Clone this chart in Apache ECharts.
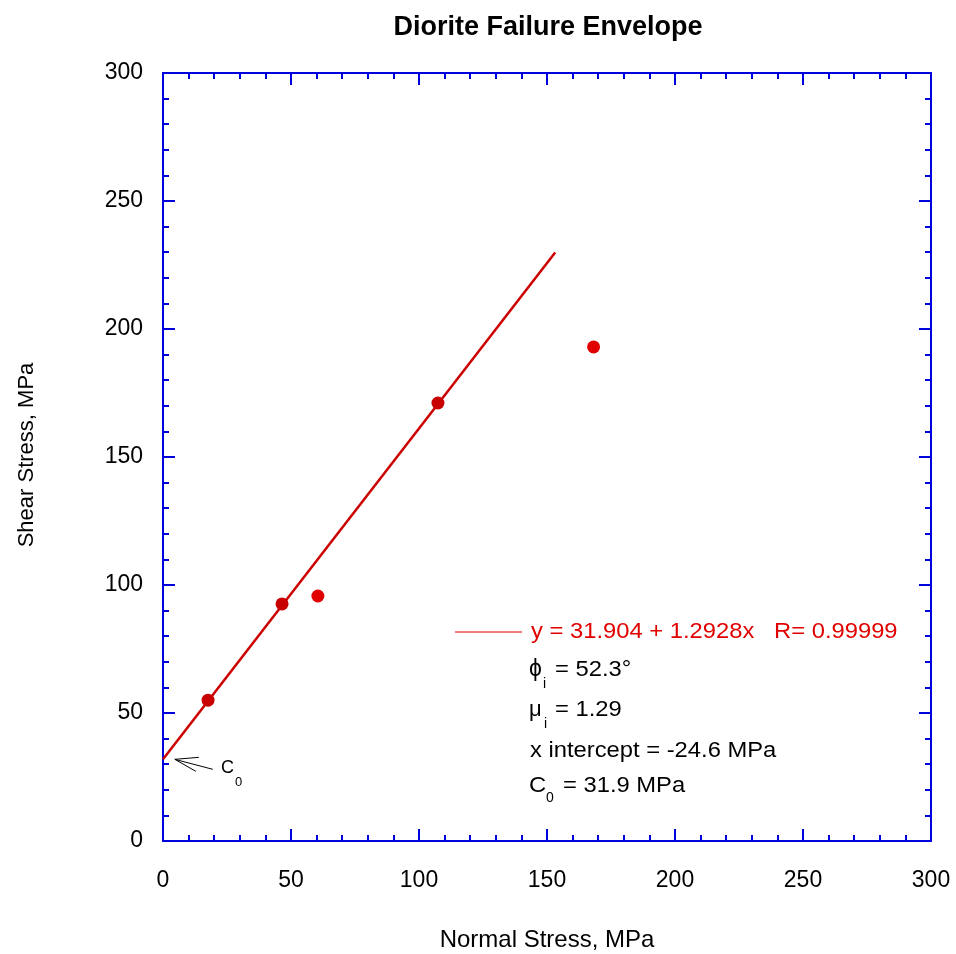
<!DOCTYPE html>
<html><head><meta charset="utf-8">
<script src="https://cdn.jsdelivr.net/npm/echarts@6/dist/echarts.min.js"></script>
<style>html,body{margin:0;padding:0;background:#fff}#c{width:956px;height:954px}</style>
</head><body><div id="c"></div>
<script>
// Data
var fitPointsX = [17.6, 46.5, 107.4];
var fitPointsY = [55.0, 92.6, 171.1];
var otherPointsX = [60.5, 168.2];
var otherPointsY = [95.7, 193.0];
var fitLineX = [0, 153.2];
var fitLineY = [31.9, 229.9];
var c0ArrowTip = [1.5, 31.9];
var axisTicks = [0, 50, 100, 150, 200, 250, 300];
var titleText = 'Diorite Failure Envelope';
var xName = 'Normal Stress, MPa';
var yName = 'Shear Stress, MPa';

function zip(a, b) { return a.map(function (v, i) { return [v, b[i]]; }); }

var FONT = 'Liberation Sans, Arial, Helvetica, sans-serif';
var BLUE = '#0000dd';
var chart = echarts.init(document.getElementById('c'), null, { renderer: 'canvas' });

function axisBase(pos, show) {
  return {
    type: 'value', min: axisTicks[0], max: axisTicks[axisTicks.length - 1], interval: 50,
    position: pos,
    axisLine: { show: true, onZero: false, lineStyle: { color: BLUE, width: 2 } },
    axisTick: { show: true, inside: true, length: 12, lineStyle: { color: BLUE, width: 2 } },
    minorTick: { show: true, splitNumber: 5, length: 6, lineStyle: { color: BLUE, width: 2 } },
    splitLine: { show: false },
    axisLabel: { show: show, color: '#000', fontSize: 23, fontFamily: FONT, margin: 20 }
  };
}
var xb = axisBase('bottom', true); xb.axisLabel.margin = 28;
var xt = axisBase('top', false);
var yl = axisBase('left', true); yl.axisLabel.margin = 20;
var yr = axisBase('right', false);

var option = {
  animation: false,
  backgroundColor: '#fff',
  grid: { left: 163, top: 73, width: 768, height: 768 },
  xAxis: [xb, xt],
  yAxis: [yl, yr],
  series: [
    { type: 'line', data: zip(fitLineX, fitLineY), showSymbol: false, lineStyle: { color: '#cc0000', width: 2.5 }, z: 3 },
    { type: 'scatter', data: zip(fitPointsX, fitPointsY), symbolSize: 13, itemStyle: { color: '#c80000', opacity: 1 }, z: 4 },
    { type: 'scatter', data: zip(otherPointsX, otherPointsY), symbolSize: 13, itemStyle: { color: '#e00000', opacity: 1 }, z: 4 }
  ]
};
chart.setOption(option);

function T(text, x, y, size, opts) {
  opts = opts || {};
  return {
    type: 'text', x: x, y: y, scaleX: opts.sx || 1, rotation: opts.rot || 0,
    style: {
      text: text, fill: opts.color || '#000',
      font: (opts.bold ? 'bold ' : '') + size + 'px ' + FONT,
      textAlign: opts.align || 'left', textVerticalAlign: 'middle'
    }
  };
}

var tip = chart.convertToPixel({ xAxisIndex: 0, yAxisIndex: 0 }, c0ArrowTip);
var tx = tip[0] + 8, ty = tip[1];
var SX = 1.08, FS = 22;
chart.setOption({
  graphic: [
    T(titleText, 548, 28, 27, { bold: true, align: 'center' }),
    T(xName, 547, 940, 24, { align: 'center' }),
    T(yName, 27, 455, 22, { align: 'center', rot: Math.PI / 2 }),
    { type: 'line', shape: { x1: tx, y1: ty, x2: tx + 24, y2: ty - 2 }, style: { stroke: '#000', lineWidth: 1 } },
    { type: 'line', shape: { x1: tx, y1: ty, x2: tx + 21, y2: ty + 12 }, style: { stroke: '#000', lineWidth: 1 } },
    { type: 'line', shape: { x1: tx, y1: ty, x2: tx + 38, y2: ty + 10 }, style: { stroke: '#000', lineWidth: 1 } },
    T('C', 221, 768, 18),
    T('0', 235, 782, 13),
    { type: 'line', shape: { x1: 455, y1: 632, x2: 522, y2: 632 }, style: { stroke: '#dd0000', lineWidth: 1 } },
    T('y = 31.904 + 1.2928x   R= 0.99999', 531, 632, FS, { color: '#e00000', sx: SX }),
    T('ϕ', 529, 670, 23),
    T('i', 543, 684, 14),
    T('= 52.3°', 555, 670, FS, { sx: SX }),
    T('μ', 529, 710, FS),
    T('i', 544, 724, 14),
    T('= 1.29', 555, 710, FS, { sx: SX }),
    T('x intercept = -24.6 MPa', 530, 751, FS, { sx: SX }),
    T('C', 529, 786, FS, { sx: SX }),
    T('0', 546, 798, 14),
    T('= 31.9 MPa', 563, 786, FS, { sx: SX })
  ]
});
</script></body></html>
